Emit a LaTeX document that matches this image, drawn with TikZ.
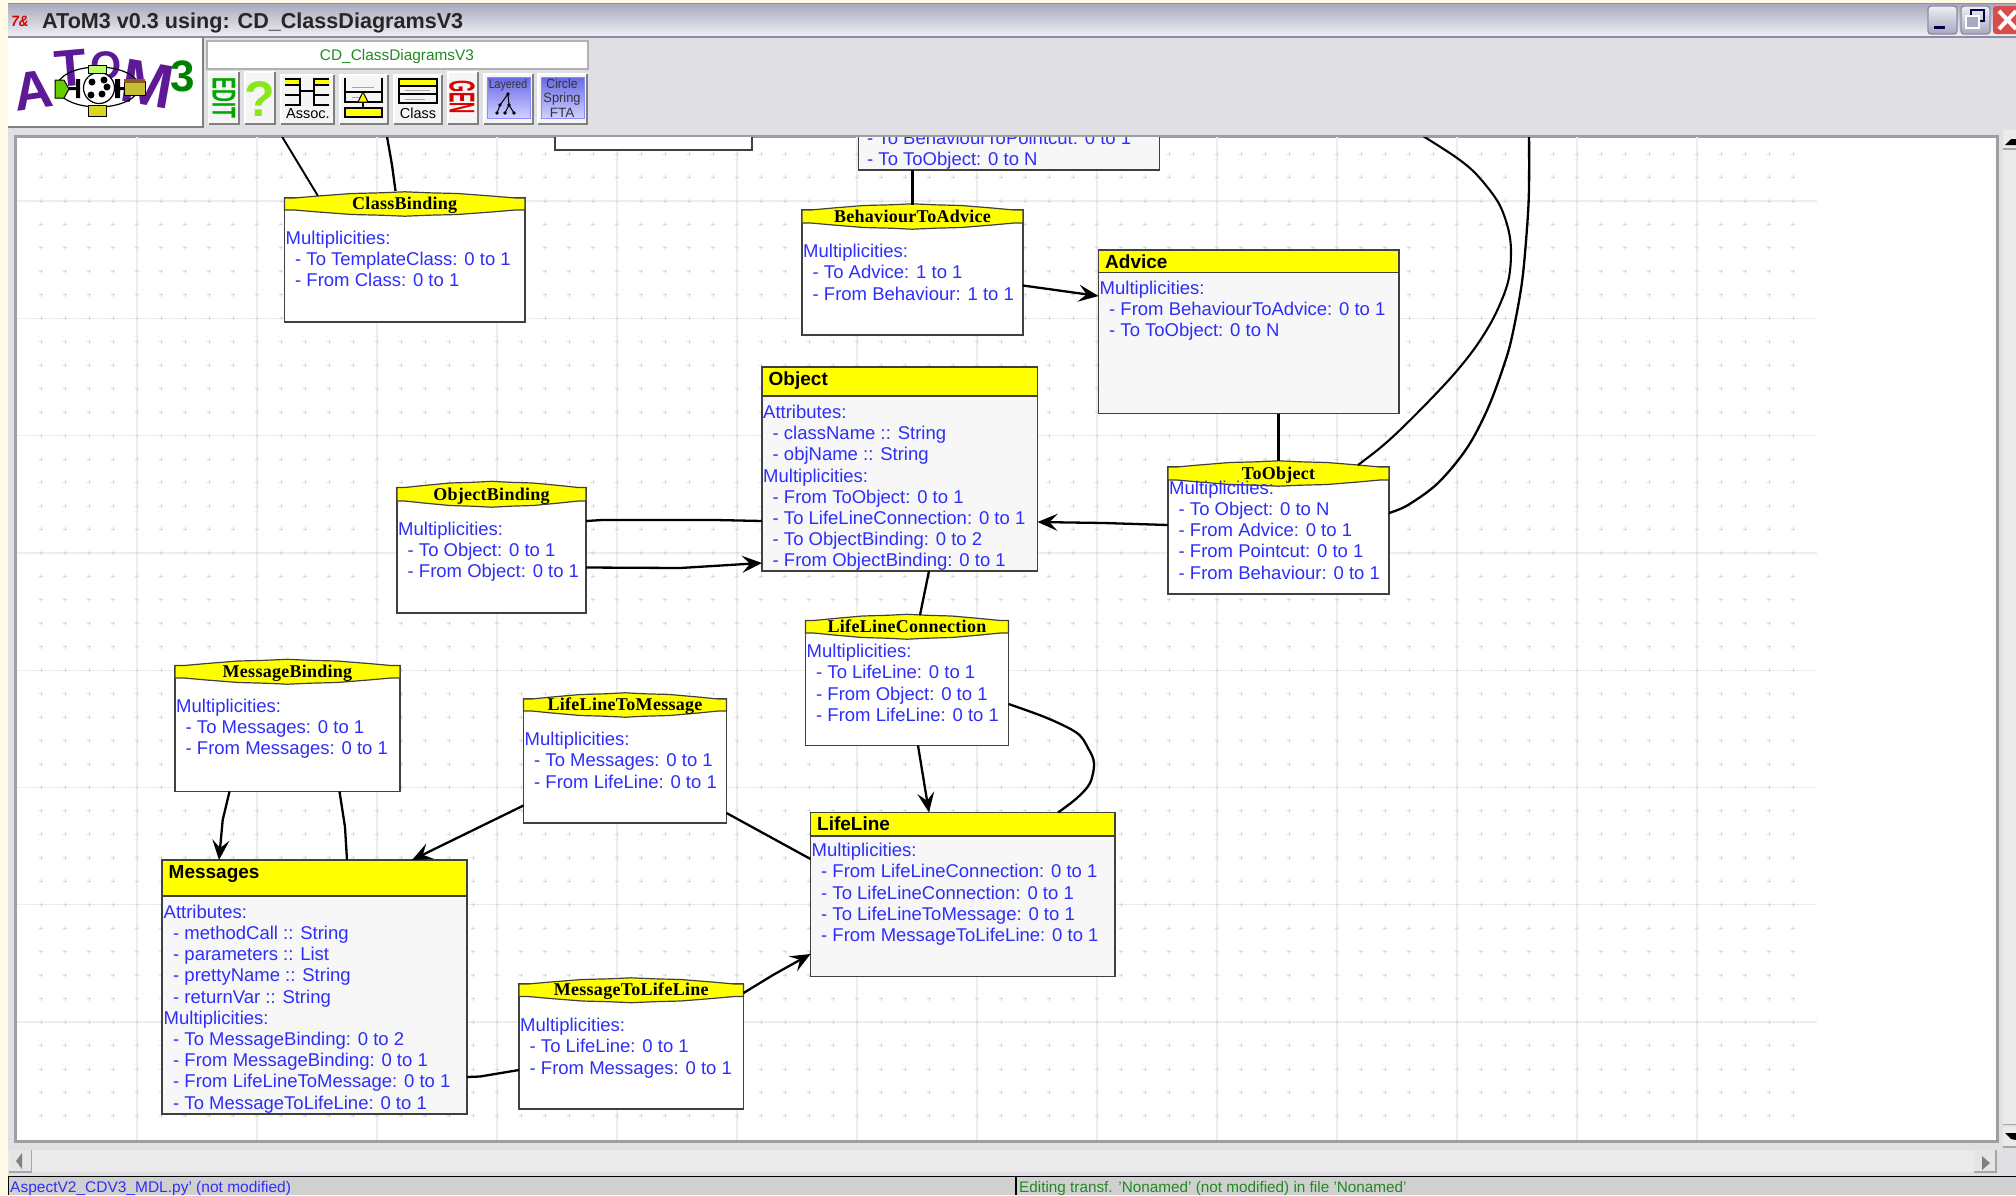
\documentclass[tikz,border=0pt]{standalone}
\usepackage{fontspec}
\usepackage{graphicx}
\setmainfont{Liberation Sans}
\newfontfamily\hdrserif[LetterSpace=1.5]{Liberation Serif}
\usetikzlibrary{calc,arrows.meta,shapes.geometric}
\definecolor{winbg}{HTML}{E0DFE3}
\definecolor{cream}{HTML}{FFFAE6}
\definecolor{bodyblue}{HTML}{2E2EFA}
\definecolor{bodygrey}{HTML}{F7F7F7}
\definecolor{edge}{HTML}{404040}
\definecolor{gridmaj}{HTML}{EEEEEE}
\definecolor{gridmin}{HTML}{D9D9D9}
\definecolor{hdryellow}{HTML}{FFFF00}
\definecolor{purp}{HTML}{5E1A96}
\definecolor{stip}{HTML}{EBEBEB}
\definecolor{statusg}{HTML}{D0D0D0}
\definecolor{okgreen}{HTML}{208A20}
\definecolor{tbtop}{HTML}{A8A8BE}
\definecolor{tbbot}{HTML}{EEEEF2}
\definecolor{tbedge}{HTML}{8C8CA6}
\tikzset{
  boxbody/.style={draw=edge,line width=1.5pt,fill=white,inner sep=0pt,outer sep=0pt,anchor=north west},
  classbody/.style={boxbody,fill=bodygrey},
  hdrshape/.style={draw=edge,line width=1.2pt,fill=hdryellow},
  hdrtitle/.style={inner sep=0pt,anchor=base,text=black,font=\hdrserif\bfseries\fontsize{18}{18}\selectfont},
  classtitle/.style={inner sep=0pt,anchor=base west,text=black,font=\bfseries\fontsize{19}{19}\selectfont},
  bodytext/.style={inner sep=0pt,anchor=north west,align=left,text=bodyblue,font=\fontsize{18.5}{21.2}\selectfont},
  conn/.style={line width=2.3pt,black,line join=round},
  arrowconn/.style={conn,-{Stealth[length=20pt,width=17pt,inset=8pt]}},
  curveconn/.style={conn,smooth,tension=.55},
  btnlabel/.style={inner sep=0pt,text=black,font=\fontsize{14.5}{14.5}\selectfont},
  iconline/.style={line width=1.1pt,black},
  iconsoft/.style={line width=1pt,gray!70},
}
\newcommand{\Fst}{\rule{0pt}{15pt}}
\newcommand{\Itm}{\hspace*{9.5pt}- }
% name x0 x1 top headerbottom bottom title
\newcommand{\assocbox}[7]{%
  \node[boxbody,minimum width={(#3-#2)*1pt},minimum height={(#6-#4)*1pt}] (#1) at (#2,#4) {};
  \draw[hdrshape] (#2,#4) -- ({#2+(#3-#2)*.04},#4) -- ({#2+(#3-#2)*.14},{#4-2}) -- ({#2+(#3-#2)*.28},{#4-4.5})
    -- ({#2+(#3-#2)*.4},{#4-5.2}) -- ({#2+(#3-#2)*.5},{#4-6.2}) -- ({#2+(#3-#2)*.6},{#4-5.2})
    -- ({#2+(#3-#2)*.72},{#4-4.5}) -- ({#2+(#3-#2)*.86},{#4-2}) -- ({#2+(#3-#2)*.96},#4) -- (#3,#4)
    -- (#3,#5) -- ({#2+(#3-#2)*.96},#5) -- ({#2+(#3-#2)*.86},{#5+2}) -- ({#2+(#3-#2)*.72},{#5+4.5})
    -- ({#2+(#3-#2)*.6},{#5+5.2}) -- ({#2+(#3-#2)*.5},{#5+6.2}) -- ({#2+(#3-#2)*.4},{#5+5.2})
    -- ({#2+(#3-#2)*.28},{#5+4.5}) -- ({#2+(#3-#2)*.14},{#5+2}) -- ({#2+(#3-#2)*.04},#5) -- (#2,#5) -- cycle;
  \node[hdrtitle] (#1-title) at ({(#2+#3)/2},{#5-0.8}) {#7};
}
% name x0 x1 top headerbottom bottom title
\newcommand{\classbox}[7]{%
  \node[classbody,minimum width={(#3-#2)*1pt},minimum height={(#6-#4)*1pt}] (#1) at (#2,#4) {};
  \draw[line width=1.5pt,draw=edge,fill=hdryellow] (#2,#4) rectangle (#3,#5);
  \node[classtitle] (#1-title) at ({#2+6.5},{#4+18.4}) {#7};
}
% name x baseline lines
\newcommand{\bodylines}[4]{\node[bodytext] (#1-text) at (#2,{#3-15}) {\Fst #4};}
% raised toolbar button
\newcommand{\raised}[4]{%
  \fill[white!96!black] (#1,#3) rectangle (#2,#4);
  \draw[line width=1.5pt,white] (#1,#4) -- (#1,#3) -- (#2,#3);
  \draw[line width=2pt,gray] (#1,#4) -- (#2,#4) -- (#2,#3);
}
\begin{document}
\begin{tikzpicture}[x=1pt,y=-1pt]
\useasboundingbox (0,0) rectangle (2016,1195);
% window background
\fill[winbg] (0,0) rectangle (2016,1195);
\fill[cream] (0,0) rectangle (2016,3);
\fill[cream] (0,0) rectangle (8,1195);
% title bar
\shade[top color=tbtop,bottom color=tbbot] (8,3) rectangle (2016,36);
\draw[line width=1.5pt,tbedge] (8,37) -- (2016,37);
\draw[line width=1.2pt,tbedge] (8,3.6) -- (2016,3.6);
% title icon and title
\node[inner sep=0pt,text=red!85!black,font=\itshape\bfseries\fontsize{15}{15}\selectfont] (tclIcon) at (20,21) {\scalebox{.9}[1]{7\&}};
\node[inner sep=0pt,anchor=base west,text=black!85,font=\bfseries] (winTitle) at (42,28) {\resizebox{421pt}{!}{AToM3 v0.3 using: CD\_ClassDiagramsV3}};
% window buttons
\draw[line width=1.4pt,draw=tbedge,top color=tbbot,bottom color=tbtop,rounded corners=3pt] (1928,6) rectangle (1957,34);
\fill[black!70!blue] (1934,26) rectangle (1945,29);
\draw[line width=1.4pt,draw=tbedge,top color=tbbot,bottom color=tbtop,rounded corners=3pt] (1961,6) rectangle (1990,34);
\draw[line width=2pt,black!70!blue] (1971,10) rectangle (1984,21);
\draw[line width=2pt,white,fill=tbtop] (1966,16) rectangle (1979,28);
\fill[red!65!white!85!black,rounded corners=3pt] (1993,6) rectangle (2020,34);
\draw[line width=4pt,white] (1999,11) -- (2016,29) (2016,11) -- (1999,29);
% logo panel
\fill[white] (8,38) rectangle (203,127);
\draw[line width=1.6pt,gray] (8,127) -- (203,127) -- (203,38);
\node[inner sep=0pt,text=purp,font=\bfseries\fontsize{54}{54}\selectfont,rotate=8] (logoA) at (33,90) {A};
\node[inner sep=0pt,text=purp,font=\bfseries\fontsize{52}{52}\selectfont,rotate=5] (logoT) at (71,68) {T};
\node[inner sep=0pt,text=purp,font=\bfseries\fontsize{40}{40}\selectfont] (logoO) at (106,66) {O};
\node[inner sep=0pt,text=purp,font=\bfseries\fontsize{62}{62}\selectfont,rotate=-10] (logoM) at (148,84) {\scalebox{1}[1]{M}};
\node[inner sep=0pt,text=green!50!black,font=\bfseries\fontsize{44}{44}\selectfont] (logoThree) at (183,76) {3};
\draw[line width=1.2pt,black] (98,87) ellipse (41 and 20);
\fill[white] (99,88) circle (15.5);
\draw[line width=1.2pt,black] (99,88) circle (15.5);
\fill[black] (92,82) circle (3.5) (104,80) circle (3.5) (91,95) circle (3.5) (102,94) circle (3.5) (107,87) circle (3.5);
\draw[line width=1pt,fill=green!50!yellow!80!black] (55,80) -- (64,80) -- (69,89) -- (64,98) -- (55,98) -- cycle;
\fill[black] (76,79) rectangle (80,98) (115,79) rectangle (120,98) (69,87) rectangle (76,90) (120,87) rectangle (124,90);
\draw[line width=1pt,fill=yellow!75!black] (124,81) rectangle (145,95);
\fill[brown!70!black] (124,79) rectangle (145,83);
\draw[line width=1pt,fill=green!45!yellow!60!white] (88,65) rectangle (106,73);
\draw[line width=1pt,fill=yellow!85!black] (88,105) rectangle (106,116);
% formalism label
\draw[line width=1.4pt,draw=gray!60,fill=white] (207,41) rectangle (588,69);
\node[inner sep=0pt,text=okgreen,font=\fontsize{15.4}{15.4}\selectfont] (formalismLabel) at (397,56.5) {CD\_ClassDiagramsV3};
% toolbar
\raised{209}{239}{72}{124}
\node[inner sep=0pt,rotate=-90,text=green!65!black,font=\bfseries\fontsize{33}{33}\selectfont] (btnEdit) at (224,98) {\scalebox{.54}[1]{EDIT}};
\raised{245}{275}{72}{124}
\node[inner sep=0pt,text=green!45!yellow!80!gray,font=\bfseries\fontsize{50}{50}\selectfont] (btnHelp) at (260,99) {?};
\raised{281}{334}{75}{124}
\fill[hdryellow] (285,79) rectangle (300,85) (314,79) rectangle (329,85);
\draw[iconline] (285,79) -- (300,79) -- (300,105) -- (285,105) (285,85) -- (300,85) (285,95) -- (300,95);
\draw[iconline] (329,79) -- (314,79) -- (314,105) -- (329,105) (329,85) -- (314,85) (329,95) -- (314,95);
\draw[iconline] (300,91) -- (314,91);
\node[btnlabel] (btnAssoc) at (308,114) {Assoc.};
\raised{340}{388}{75}{124}
\draw[iconline] (345,78) -- (345,92) -- (382,92) -- (382,78);
\draw[iconline] (345,92) -- (345,102) -- (382,102) -- (382,92);
\draw[iconsoft] (352,87) -- (374,87) (352,97) -- (360,97);
\draw[iconline] (363,102) -- (363,108);
\draw[line width=1pt,fill=hdryellow] (363,92) -- (368,102) -- (358,102) -- cycle;
\draw[line width=1.5pt,fill=hdryellow] (345,108) rectangle (382,117);
\raised{394}{442}{75}{124}
\draw[iconline] (399,79) rectangle (437,103);
\fill[hdryellow] (399,79) rectangle (437,86);
\draw[iconline] (399,79) rectangle (437,86) (399,94) -- (437,94);
\draw[iconsoft] (405,90) -- (430,90) (405,99) -- (425,99);
\node[btnlabel] (btnClass) at (418,113) {Class};
\raised{448}{478}{72}{124}
\node[inner sep=0pt,rotate=-90,text=red!85!black,font=\bfseries\fontsize{36}{36}\selectfont] (btnGen) at (462,97) {\scalebox{.43}[1]{GEN}};
\raised{484}{533}{74}{124}
\shade[top color=blue!55!white!90!black,bottom color=blue!18!white] (487,77) rectangle (530,118);
\draw[line width=1pt,blue!45!white] (487,77) rectangle (530,118);
\node[inner sep=0pt,text=black!80,font=\fontsize{12.5}{12.5}\selectfont] (btnLayered) at (508,85) {\scalebox{.85}[1]{Layered}};
\draw[line width=1pt,black] (508,94) -- (500,105) -- (497,113) (508,94) -- (509,105) -- (505,113) (509,105) -- (514,113);
\fill[black] (508,94) circle (1.8) (500,105) circle (1.8) (509,105) circle (1.8) (497,113) circle (1.8) (505,113) circle (1.8) (514,113) circle (1.8);
\raised{538}{587}{74}{124}
\shade[top color=blue!55!white!90!black,bottom color=blue!18!white] (541,77) rectangle (584,118);
\draw[line width=1pt,blue!45!white] (541,77) rectangle (584,118);
\node[inner sep=0pt,text=black!80,font=\fontsize{13.5}{13.5}\selectfont] (btnCircle) at (562,84) {\scalebox{.9}[1]{Circle}};
\node[inner sep=0pt,text=black!80,font=\fontsize{13.5}{13.5}\selectfont] (btnSpring) at (562,99) {\scalebox{.95}[1]{Spring}};
\node[inner sep=0pt,text=black!80,font=\fontsize{13.5}{13.5}\selectfont] (btnFta) at (562,113) {FTA};
% canvas
\fill[white] (15,136) rectangle (1997,1141);
\draw[line width=3pt,gray!75] (15,1141) -- (15,136) -- (1997,136) -- (1997,1141) -- cycle;
\begin{scope}
\clip (16.5,137.5) rectangle (1995.5,1139.5);
% grid
\foreach \gx in {137,257,...,1697} {\draw[line width=1.3pt,gridmaj] (\gx,137) -- (\gx,1140);}
\foreach \gy in {201,318.3,435.6,552.9,670.2,787.5,904.8,1022.1} {\draw[line width=1.3pt,gridmaj] (17,\gy) -- (1817,\gy);}
\path[draw=gridmin,line width=.8pt]
  \foreach \dx in {0,...,73} { \foreach \dy in {0,...,41} {
    ({41+24*\dx-2},{154+23.46*\dy}) -- ++(4,0) ({41+24*\dx},{154+23.46*\dy-2}) -- ++(0,4) } };
% partially hidden boxes at the top of the canvas
\node[boxbody,minimum width=197pt,minimum height=60pt] (stubA) at (555,90) {};
\node[classbody,minimum width=301pt,minimum height=80pt] (stubB) at (858.5,90) {};
\bodylines{stubB}{867}{144}{- To BehaviourToPointcut: 0 to 1\\- To ToObject: 0 to N}
% classes and associations
\assocbox{ClassBinding}{284.5}{525}{198}{210}{322}{ClassBinding}
\bodylines{ClassBinding}{285.5}{244}{Multiplicities:\\\Itm To TemplateClass: 0 to 1\\\Itm From Class: 0 to 1}
\assocbox{BehaviourToAdvice}{802}{1023}{210}{223}{335}{BehaviourToAdvice}
\bodylines{BehaviourToAdvice}{803}{257.5}{Multiplicities:\\\Itm To Advice: 1 to 1\\\Itm From Behaviour: 1 to 1}
\classbox{Advice}{1098.5}{1399}{250}{272.5}{413.5}{Advice}
\bodylines{Advice}{1099.5}{294}{Multiplicities:\\\Itm From BehaviourToAdvice: 0 to 1\\\Itm To ToObject: 0 to N}
\classbox{Object}{762}{1037.5}{367}{396}{571}{Object}
\bodylines{Object}{763}{418.3}{Attributes:\\\Itm className :: String\\\Itm objName :: String\\Multiplicities:\\\Itm From ToObject: 0 to 1\\\Itm To LifeLineConnection: 0 to 1\\\Itm To ObjectBinding: 0 to 2\\\Itm From ObjectBinding: 0 to 1}
\assocbox{ObjectBinding}{397}{586}{487.5}{501}{613}{ObjectBinding}
\bodylines{ObjectBinding}{398}{535}{Multiplicities:\\\Itm To Object: 0 to 1\\\Itm From Object: 0 to 1}
\assocbox{ToObject}{1168}{1389}{467}{480}{594}{ToObject}
\bodylines{ToObject}{1169}{494}{Multiplicities:\\\Itm To Object: 0 to N\\\Itm From Advice: 0 to 1\\\Itm From Pointcut: 0 to 1\\\Itm From Behaviour: 0 to 1}
\assocbox{LifeLineConnection}{805.5}{1008.5}{620.5}{633}{745.5}{LifeLineConnection}
\bodylines{LifeLineConnection}{806.5}{657.5}{Multiplicities:\\\Itm To LifeLine: 0 to 1\\\Itm From Object: 0 to 1\\\Itm From LifeLine: 0 to 1}
\assocbox{MessageBinding}{175}{400}{665.5}{678}{791.5}{MessageBinding}
\bodylines{MessageBinding}{176}{712}{Multiplicities:\\\Itm To Messages: 0 to 1\\\Itm From Messages: 0 to 1}
\assocbox{LifeLineToMessage}{523.5}{726.5}{699}{711}{823}{LifeLineToMessage}
\bodylines{LifeLineToMessage}{524.5}{745.5}{Multiplicities:\\\Itm To Messages: 0 to 1\\\Itm From LifeLine: 0 to 1}
\classbox{LifeLine}{810.5}{1115}{812.5}{836}{976.5}{LifeLine}
\bodylines{LifeLine}{811.5}{856.5}{Multiplicities:\\\Itm From LifeLineConnection: 0 to 1\\\Itm To LifeLineConnection: 0 to 1\\\Itm To LifeLineToMessage: 0 to 1\\\Itm From MessageToLifeLine: 0 to 1}
\classbox{Messages}{162}{467}{860}{896}{1114}{Messages}
\bodylines{Messages}{163.5}{918}{Attributes:\\\Itm methodCall :: String\\\Itm parameters :: List\\\Itm prettyName :: String\\\Itm returnVar :: String\\Multiplicities:\\\Itm To MessageBinding: 0 to 2\\\Itm From MessageBinding: 0 to 1\\\Itm From LifeLineToMessage: 0 to 1\\\Itm To MessageToLifeLine: 0 to 1}
\assocbox{MessageToLifeLine}{519}{743.5}{984}{996.5}{1109}{MessageToLifeLine}
\bodylines{MessageToLifeLine}{520}{1031.5}{Multiplicities:\\\Itm To LifeLine: 0 to 1\\\Itm From Messages: 0 to 1}
% free ends beyond the canvas top
\coordinate (cbLeftEnd) at (275,125);
\coordinate (cbRightEnd) at (385,125);
\coordinate (toObjInner) at (1405,125);
\coordinate (toObjOuter) at (1529,125);
% connectors
\draw[conn,line width=1.9pt] (cbLeftEnd) -- ($(ClassBinding.north west)+(33.5,-2)$);
\draw[conn] (cbRightEnd) -- (392,165) -- ($(ClassBinding.north west)+(111,-7)$);
\draw[conn] (stubB.south west -| BehaviourToAdvice-title.north) -- ($(BehaviourToAdvice.north)+(0,-5.5)$);
\draw[arrowconn] ($(BehaviourToAdvice.north east)+(0,75.5)$) -- ($(Advice.north west)+(0,46)$);
\draw[conn] (Advice.south -| ToObject.north) -- ($(ToObject.north)+(0,-6)$);
\draw[curveconn,line width=2.1pt] plot coordinates {(toObjInner) (1423,136) (1457,158) (1477,175) (1498,202) (1508,228) (1511,252) (1508,282) (1495,315) (1477,345) (1455,373) (1428,402) (1400,430) (1380,448) ($(ToObject.north east)+(-31,-2)$)};
\draw[curveconn] plot coordinates {(toObjOuter) (1529,188) (1527,228) (1522,282) (1513,332) (1505,362) (1488,408) (1467,448) (1438,483) (1408,505) ($(ToObject.north east)+(0,46)$)};
\draw[arrowconn] ($(ToObject.north west)+(0,58)$) -- (1104,523) -- ($(Object.north east)+(0,155)$);
\draw[conn] ($(ObjectBinding.north east)+(0,33.5)$) -- (602,520) -- (716,520) -- ($(Object.north west)+(0,154)$);
\draw[arrowconn] ($(ObjectBinding.north east)+(0,80)$) -- (680,568) -- ($(Object.south west)+(0,-8)$);
\draw[conn] ($(Object.south west)+(167,0)$) -- ($(LifeLineConnection.north west)+(114.5,-5.5)$);
\draw[arrowconn] ($(LifeLineConnection.south west)+(112.5,0)$) -- ($(LifeLine.north west)+(118.5,0)$);
\draw[curveconn] plot coordinates {($(LifeLineConnection.north east)+(0,83.5)$) (1047,718) (1077,733) (1088,748) (1094,763) (1090,783) (1077,798) ($(LifeLine.north west)+(247.5,0)$)};
\draw[arrowconn] ($(MessageBinding.south west)+(54.5,0)$) -- (222.7,820) -- ($(Messages.north west)+(57,0)$);
\draw[conn] ($(MessageBinding.south west)+(164.5,0)$) -- (345,827) -- ($(Messages.north west)+(185,0)$);
\draw[arrowconn] ($(LifeLineToMessage.north west)+(0,106.5)$) -- ($(Messages.north west)+(250,0)$);
\draw[conn] ($(LifeLineToMessage.north east)+(0,114)$) -- ($(LifeLine.north west)+(0,46.5)$);
\draw[conn] ($(Messages.north east)+(0,217)$) -- (480,1076.5) -- ($(MessageToLifeLine.north west)+(0,86)$);
\draw[arrowconn] ($(MessageToLifeLine.north east)+(0,9)$) -- (773,975) -- ($(LifeLine.south west)+(0,-22.5)$);
\end{scope}
% right scrollbar
\fill[stip] (2003,150) rectangle (2016,1125);
\fill[white!92!black] (2003,130) rectangle (2016,148);
\draw[line width=1.5pt,gray!70] (2003,149) -- (2016,149);
\fill[black] (2005,145) -- (2016,145) -- (2016,139) -- (2011,139) -- cycle;
\fill[white!92!black] (2003,1127) rectangle (2016,1147);
\draw[line width=1.5pt,gray!70] (2003,1124.5) -- (2016,1124.5) (2003,1147) -- (2016,1147);
\fill[black] (2005,1133) -- (2016,1133) -- (2016,1140) -- (2011,1139) -- cycle;
% bottom scrollbar
\fill[stip] (8,1150) rectangle (1996,1172);
\fill[white!90!black] (8.5,1150) rectangle (31.5,1172);
\draw[line width=1.4pt,gray!70] (8.5,1172) -- (31.5,1172) -- (31.5,1150);
\fill[gray] (22,1153) -- (22,1169) -- (16,1161) -- cycle;
\fill[white!90!black] (1974,1150) rectangle (1996,1172);
\draw[line width=1.4pt,gray!70] (1974,1172) -- (1996,1172) -- (1996,1150);
\fill[gray] (1982,1156) -- (1982,1170) -- (1990,1163) -- cycle;
% status bar
\fill[statusg] (8,1177) rectangle (2016,1195);
\draw[line width=1.6pt,black] (8,1176.5) -- (2016,1176.5);
\draw[line width=1.4pt,black] (8.5,1176.5) -- (8.5,1195) (1016,1176.5) -- (1016,1195);
\node[inner sep=0pt,anchor=base west,text=bodyblue,font=\fontsize{15.5}{15.5}\selectfont] (statusLeft) at (10,1192) {AspectV2\_CDV3\_MDL.py' (not modified)};
\node[inner sep=0pt,anchor=base west,text=okgreen,font=\fontsize{15.3}{15.3}\selectfont] (statusRight) at (1019,1192) {Editing transf. 'Nonamed' (not modified) in file 'Nonamed'};
\end{tikzpicture}
\end{document}
